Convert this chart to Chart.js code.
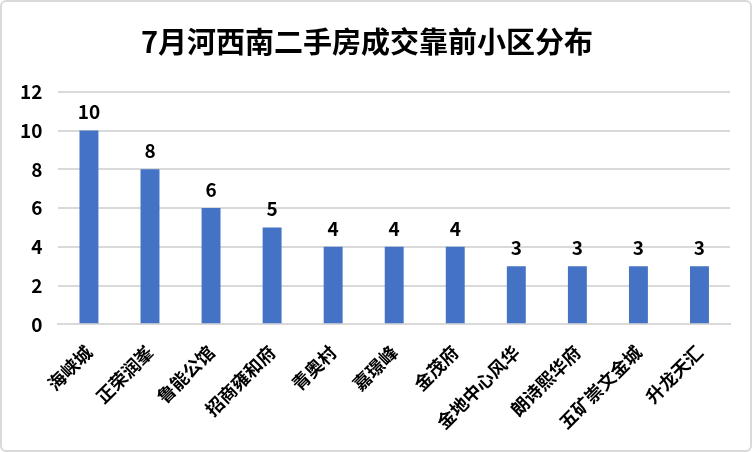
<!DOCTYPE html>
<html>
<head>
<meta charset="utf-8">
<script src="https://cdn.jsdelivr.net/npm/chart.js@4.4.0/dist/chart.umd.js"></script>
<style>
  html, body { margin: 0; padding: 0; background: #fff; }
  #wrap { width: 752px; height: 452px; box-sizing: border-box; border: 2px solid #d9d9d9; border-radius: 6px; position: relative; }
</style>
</head>
<body>
<div id="wrap"><canvas id="chart"></canvas></div>
<script>
// 小区名称与成交套数
const communities = ['海峡城', '正荣润峯', '鲁能公馆', '招商雍和府', '青奥村', '嘉璟峰', '金茂府', '金地中心风华', '朗诗熙华府', '五矿崇文金城', '升龙天汇'];
const deals = [10, 8, 6, 5, 4, 4, 4, 3, 3, 3, 3];
const yTicks = [0, 2, 4, 6, 8, 10, 12];

const FONT = "'Noto Sans CJK SC', 'Noto Sans', sans-serif";

// 在柱子上方写数值
const valueLabels = {
    id: 'valueLabels',
    afterDatasetsDraw(chart) {
        const ctx = chart.ctx;
        const meta = chart.getDatasetMeta(0);
        ctx.save();
        ctx.font = `bold 19px ${FONT}`;
        ctx.fillStyle = '#000';
        ctx.textAlign = 'center';
        ctx.textBaseline = 'bottom';
        meta.data.forEach((bar, i) => {
            ctx.fillText(String(deals[i]), bar.x, bar.y - 9);
        });
        ctx.restore();
    }
};

new Chart(document.getElementById('chart'), {
    type: 'bar',
    data: {
        labels: communities,
        datasets: [{
            data: deals,
            backgroundColor: '#4472c4',
            categoryPercentage: 1,
            barPercentage: 0.31
        }]
    },
    options: {
        responsive: true,
        maintainAspectRatio: false,
        animation: false,
        layout: { padding: { left: 2, right: 20, top: 0, bottom: 8 } },
        plugins: {
            legend: { display: false },
            tooltip: { enabled: false },
            title: {
                display: true,
                text: '7月河西南二手房成交靠前小区分布',
                color: '#000',
                font: { family: FONT, size: 29, weight: 'bold' },
                padding: { top: 23, bottom: 32 }
            }
        },
        scales: {
            x: {
                grid: { display: false },
                border: { color: '#d9d9d9', width: 2 },
                ticks: {
                    color: '#000',
                    font: { family: FONT, size: 18, weight: 'bold' },
                    minRotation: 45,
                    maxRotation: 45,
                    autoSkip: false,
                    padding: 9
                }
            },
            y: {
                min: 0,
                max: 12,
                afterBuildTicks(axis) {
                    axis.ticks = yTicks.map(v => ({ value: v }));
                },
                grid: { color: '#d9d9d9', lineWidth: 2, drawTicks: false },
                border: { display: false },
                ticks: {
                    color: '#000',
                    font: { family: FONT, size: 19, weight: 'bold' },
                    padding: 16
                }
            }
        }
    },
    plugins: [valueLabels]
});
</script>
</body>
</html>
